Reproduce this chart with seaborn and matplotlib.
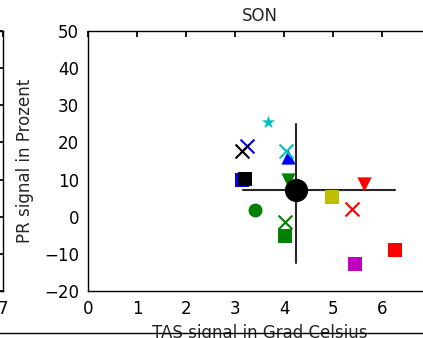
import matplotlib
matplotlib.use("Agg")
import matplotlib.pyplot as plt
import seaborn as sns
import pandas as pd

# ---- data ----
tas = [3.67, 3.24, 3.14, 4.08, 4.04, 3.14, 3.20, 4.08, 3.41, 4.02, 4.02, 4.98, 5.39, 5.63, 5.45, 6.27]
pr = [25.5, 19.0, 17.7, 16.0, 17.7, 9.9, 10.1, 9.9, 1.8, -1.4, -5.2, 5.3, 2.1, 8.8, -12.7, -9.0]
colors = ["c", "b", "k", "b", "c", "b", "k", "g", "g", "g", "g", "y", "r", "r", "m", "r"]
markers = ["*", "x", "x", "^", "x", "s", "s", "v", "o", "x", "s", "s", "x", "v", "s", "s"]

center_x = [4.24]
center_y = [7.2]
hline_x = [3.16, 6.27]
vline_y = [-12.5, 25.0]

title = "SON"
xlabel = "TAS signal in Grad Celsius"
ylabel = "PR signal in Prozent"
xticks = [0, 1, 2, 3, 4, 5, 6, 7]
yticks = [-20, -10, 0, 10, 20, 30, 40, 50]

color_map = {"b": (0, 0, 1), "g": (0, 0.5, 0), "r": (1, 0, 0), "c": (0, 0.75, 0.75),
             "m": (0.75, 0, 0.75), "y": (0.75, 0.75, 0), "k": (0, 0, 0)}

sns.set_theme(style="white")
plt.rcParams.update({
    "font.family": ["DejaVu Sans"],
    "font.size": 12,
    "axes.edgecolor": "black",
    "axes.linewidth": 1.0,
    "xtick.direction": "in",
    "ytick.direction": "in",
    "xtick.top": True,
    "ytick.right": True,
    "xtick.major.size": 4,
    "ytick.major.size": 4,
    "xtick.major.pad": 6.5,
    "ytick.major.pad": 6.5,
    "xtick.color": "black",
    "ytick.color": "black",
    "xtick.labelsize": 12,
    "ytick.labelsize": 12,
    "axes.labelsize": 12,
    "axes.titlesize": 12,
})

W, H = 423, 338
fig = plt.figure(figsize=(W / 100, H / 100), dpi=100)

# main axes (extends beyond the right edge like the cropped reference)
ax_l, ax_r, ax_t, ax_b = 88, 431, 31, 291
ax = fig.add_axes([ax_l / W, 1 - ax_b / H, (ax_r - ax_l) / W, (ax_b - ax_t) / H])

# partial neighbouring axes at left
axL = fig.add_axes([(2.5 - (ax_r - ax_l)) / W, 1 - ax_b / H, (ax_r - ax_l) / W, (ax_b - ax_t) / H])
axL.set_xlim(0, 7)
axL.set_ylim(-20, 50)
axL.set_xticks(xticks)
axL.set_yticks(yticks)
axL.set_yticklabels([])
axL.tick_params(which="both", direction="in", top=True, right=True)

# partial neighbouring axes below
axB = fig.add_axes([-0.9, -0.5, 2.8, 0.5 + 1 - 333 / H])
axB.set_facecolor("none")
axB.set_xticks([])
axB.set_yticks([])

# crosshair
ax.plot(hline_x, [center_y[0], center_y[0]], color="0.15", lw=1.5, zorder=1)
ax.plot([center_x[0], center_x[0]], vline_y, color="0.15", lw=1.5, zorder=1)

df = pd.DataFrame({"tas": tas, "pr": pr, "c": colors, "m": markers})
sizes = {"*": 100, "x": 100, "^": 105, "v": 105, "s": 105, "o": 100}
for i, row in df.iterrows():
    col = color_map[row["c"]]
    size = sizes[row["m"]]
    if row["m"] == "x":
        sns.scatterplot(x=[row["tas"]], y=[row["pr"]], ax=ax, marker="x", color=col,
                        s=size, linewidth=1.5, zorder=3, legend=False)
    else:
        sns.scatterplot(x=[row["tas"]], y=[row["pr"]], ax=ax, marker=row["m"], color=col,
                        s=size, linewidth=0, zorder=3, legend=False)

sns.scatterplot(x=center_x, y=center_y, ax=ax, color="black", s=280, linewidth=0,
                zorder=4, legend=False)

ax.set_xlim(0, 7)
ax.set_ylim(-20, 50)
ax.set_xticks(xticks)
ax.set_yticks(yticks)
ax.set_title(title, pad=7.5)
ax.set_xlabel(xlabel, labelpad=4)
ax.set_ylabel(ylabel, labelpad=7)
for a in (ax, axL):
    for s in a.spines.values():
        s.set_visible(True)
        s.set_color("black")

fig.savefig("out.png", dpi=100)
